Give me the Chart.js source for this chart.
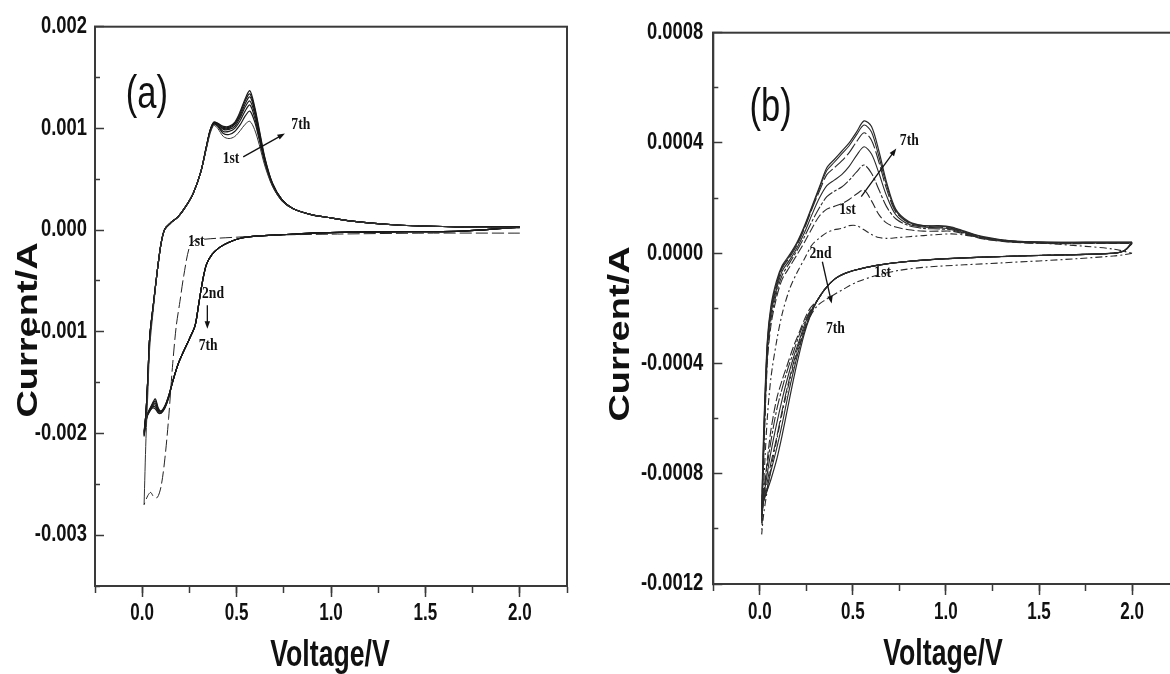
<!DOCTYPE html>
<html><head><meta charset="utf-8">
<script src="https://cdn.jsdelivr.net/npm/chart.js@4.4.1/dist/chart.umd.min.js"></script>
<style>
html,body{margin:0;padding:0;background:#fff;overflow:hidden;width:1170px;height:674px;}
#wa{position:absolute;left:0;top:0;width:585px;height:674px;}
#wb{position:absolute;left:585px;top:0;width:600px;height:674px;}
</style></head><body>
<div id="wa"><canvas id="ca" width="585" height="674"></canvas></div>
<div id="wb"><canvas id="cb" width="600" height="674"></canvas></div>
<script>
// ---------- axis ticks ----------
const xMajor = [0, 0.5, 1.0, 1.5, 2.0];
const xLabels = ['0.0', '0.5', '1.0', '1.5', '2.0'];
const xMinor = [-0.25, 0.25, 0.75, 1.25, 1.75, 2.25];
const aYMajor = [-0.003, -0.002, -0.001, 0, 0.001, 0.002];
const aYLabels = ['-0.003', '-0.002', '-0.001', '0.000', '0.001', '0.002'];
const aYMinor = [-0.0035, -0.0025, -0.0015, -0.0005, 0.0005, 0.0015];
const bYMajor = [-0.0012, -0.0008, -0.0004, 0, 0.0004, 0.0008];
const bYLabels = ['-0.0012', '-0.0008', '-0.0004', '0.0000', '0.0004', '0.0008'];
const bYMinor = [-0.001, -0.0006, -0.0002, 0.0002, 0.0006];

// ---------- panel (a) data: voltage (V), current (mA) ----------
const aVAnodic = [0.01,0.02,0.03,0.04,0.06,0.08,0.10,0.12,0.15,0.19,0.23,0.27,0.31,0.34,0.36,0.38,0.40,0.43,0.46,0.49,0.52,0.545,0.57,0.595,0.62,0.65,0.69,0.74,0.80,0.90,1.00,1.10,1.20,1.35,1.50,1.70,2.00];
const aI1Anodic = [-2.70,-2.05,-1.60,-1.15,-0.76,-0.40,-0.13,0.01,0.07,0.13,0.23,0.36,0.57,0.80,0.95,1.03,1.00,0.92,0.90,0.92,0.98,1.04,1.07,0.99,0.84,0.63,0.43,0.29,0.21,0.15,0.12,0.09,0.07,0.05,0.04,0.03,0.02];
const aI2Anodic = [-1.98,-1.80,-1.45,-1.05,-0.72,-0.40,-0.13,0.01,0.07,0.13,0.23,0.36,0.57,0.81,0.97,1.04,1.02,0.95,0.94,0.97,1.04,1.12,1.17,1.07,0.89,0.66,0.44,0.29,0.21,0.15,0.12,0.09,0.07,0.05,0.04,0.03,0.03];
const aI3Anodic = [-1.99,-1.80,-1.45,-1.05,-0.72,-0.40,-0.13,0.01,0.07,0.13,0.23,0.36,0.57,0.82,0.98,1.05,1.03,0.97,0.97,1.00,1.08,1.17,1.23,1.11,0.91,0.67,0.44,0.29,0.21,0.15,0.12,0.09,0.07,0.05,0.04,0.03,0.03];
const aI4Anodic = [-2.00,-1.80,-1.45,-1.05,-0.72,-0.40,-0.13,0.01,0.07,0.13,0.23,0.36,0.57,0.82,0.98,1.05,1.04,0.99,0.99,1.02,1.11,1.21,1.27,1.15,0.93,0.68,0.45,0.30,0.21,0.15,0.12,0.09,0.07,0.05,0.04,0.03,0.03];
const aI5Anodic = [-2.01,-1.80,-1.45,-1.05,-0.72,-0.40,-0.13,0.01,0.07,0.13,0.23,0.36,0.57,0.82,0.98,1.06,1.04,1.00,1.00,1.04,1.13,1.24,1.31,1.18,0.95,0.69,0.45,0.30,0.21,0.15,0.12,0.09,0.07,0.05,0.04,0.03,0.03];
const aI6Anodic = [-2.02,-1.80,-1.45,-1.05,-0.72,-0.40,-0.13,0.01,0.07,0.13,0.23,0.36,0.57,0.82,0.98,1.06,1.05,1.01,1.01,1.05,1.15,1.27,1.34,1.20,0.97,0.70,0.46,0.30,0.21,0.15,0.12,0.09,0.07,0.05,0.04,0.03,0.03];
const aI7Anodic = [-2.03,-1.80,-1.45,-1.05,-0.72,-0.40,-0.13,0.01,0.07,0.13,0.23,0.36,0.57,0.82,0.98,1.06,1.05,1.02,1.02,1.06,1.17,1.29,1.37,1.22,0.99,0.71,0.46,0.30,0.21,0.15,0.12,0.09,0.07,0.05,0.04,0.03,0.03];

const aV1Cathodic = [2.00,1.50,1.00,0.70,0.50,0.40,0.33,0.28,0.25,0.22,0.20,0.18,0.16,0.14,0.12,0.10,0.08,0.06,0.045,0.03,0.01];
const aI1Cathodic = [-0.03,-0.03,-0.04,-0.05,-0.07,-0.08,-0.09,-0.10,-0.17,-0.45,-0.70,-0.95,-1.35,-1.85,-2.25,-2.52,-2.63,-2.62,-2.58,-2.61,-2.70];
const aVCathodic = [2.00,1.70,1.40,1.10,0.90,0.70,0.60,0.52,0.46,0.41,0.37,0.34,0.32,0.30,0.28,0.25,0.22,0.19,0.16,0.14,0.12,0.10,0.085,0.07,0.055,0.04,0.025,0.01];
const aI2Cathodic = [0.03,-0.01,-0.015,-0.02,-0.03,-0.05,-0.06,-0.08,-0.12,-0.17,-0.24,-0.34,-0.50,-0.72,-0.94,-1.07,-1.19,-1.32,-1.50,-1.63,-1.73,-1.78,-1.75,-1.66,-1.70,-1.76,-1.82,-1.98];
const aI3Cathodic = [0.03,-0.01,-0.015,-0.02,-0.03,-0.05,-0.06,-0.08,-0.12,-0.17,-0.24,-0.34,-0.50,-0.72,-0.94,-1.07,-1.19,-1.32,-1.50,-1.63,-1.73,-1.78,-1.76,-1.68,-1.71,-1.76,-1.82,-1.99];
const aI4Cathodic = [0.03,-0.01,-0.015,-0.02,-0.03,-0.05,-0.06,-0.08,-0.12,-0.17,-0.24,-0.34,-0.50,-0.72,-0.94,-1.07,-1.19,-1.32,-1.50,-1.64,-1.74,-1.79,-1.77,-1.70,-1.72,-1.77,-1.83,-2.00];
const aI5Cathodic = [0.03,-0.01,-0.015,-0.02,-0.03,-0.05,-0.06,-0.08,-0.12,-0.17,-0.24,-0.34,-0.50,-0.72,-0.94,-1.07,-1.19,-1.32,-1.50,-1.64,-1.74,-1.79,-1.78,-1.72,-1.73,-1.77,-1.83,-2.01];
const aI6Cathodic = [0.03,-0.01,-0.015,-0.02,-0.03,-0.05,-0.06,-0.08,-0.12,-0.17,-0.24,-0.34,-0.50,-0.72,-0.94,-1.07,-1.19,-1.32,-1.50,-1.65,-1.75,-1.80,-1.79,-1.74,-1.74,-1.78,-1.84,-2.02];
const aI7Cathodic = [0.03,-0.01,-0.015,-0.02,-0.03,-0.05,-0.06,-0.08,-0.12,-0.17,-0.24,-0.34,-0.50,-0.72,-0.94,-1.07,-1.19,-1.32,-1.50,-1.65,-1.75,-1.80,-1.80,-1.76,-1.75,-1.78,-1.84,-2.03];

// ---------- panel (b) data: voltage (V), current (mA) ----------
const bVAnodic = [0.01,0.02,0.04,0.06,0.09,0.12,0.16,0.20,0.24,0.28,0.32,0.36,0.40,0.44,0.48,0.52,0.56,0.60,0.64,0.68,0.73,0.80,0.88,0.96,1.03,1.10,1.20,1.35,1.55,1.75,1.90,2.00];
const bI1Anodic = [-1.02,-0.85,-0.60,-0.45,-0.32,-0.22,-0.13,-0.07,-0.02,0.03,0.055,0.075,0.085,0.09,0.10,0.10,0.085,0.068,0.057,0.054,0.056,0.06,0.064,0.068,0.07,0.066,0.055,0.045,0.035,0.025,0.015,0.0];
const bI2Anodic = [-0.98,-0.76,-0.40,-0.26,-0.16,-0.095,-0.05,-0.005,0.04,0.09,0.135,0.16,0.17,0.18,0.195,0.215,0.229,0.19,0.14,0.11,0.095,0.085,0.08,0.08,0.08,0.07,0.052,0.04,0.035,0.035,0.035,0.035];
const bI3Anodic = [-0.97,-0.74,-0.38,-0.24,-0.145,-0.08,-0.035,0.01,0.06,0.115,0.165,0.205,0.225,0.24,0.265,0.295,0.32,0.29,0.23,0.17,0.125,0.10,0.09,0.088,0.085,0.072,0.053,0.041,0.036,0.036,0.036,0.036];
const bI4Anodic = [-0.96,-0.72,-0.36,-0.22,-0.13,-0.065,-0.025,0.02,0.075,0.14,0.20,0.245,0.265,0.285,0.315,0.355,0.386,0.36,0.29,0.21,0.14,0.105,0.095,0.092,0.088,0.074,0.055,0.042,0.037,0.037,0.037,0.037];
const bI5Anodic = [-0.95,-0.70,-0.34,-0.21,-0.12,-0.055,-0.015,0.03,0.09,0.16,0.225,0.285,0.31,0.335,0.365,0.405,0.437,0.41,0.33,0.235,0.15,0.11,0.098,0.095,0.09,0.076,0.057,0.043,0.038,0.038,0.038,0.038];
const bI6Anodic = [-0.94,-0.68,-0.33,-0.20,-0.11,-0.05,-0.01,0.035,0.095,0.165,0.235,0.30,0.33,0.36,0.39,0.43,0.465,0.44,0.35,0.25,0.155,0.112,0.10,0.098,0.093,0.078,0.058,0.044,0.04,0.04,0.04,0.04];
const bI7Anodic = [-0.93,-0.66,-0.32,-0.19,-0.10,-0.045,-0.005,0.04,0.10,0.17,0.24,0.31,0.34,0.37,0.40,0.44,0.48,0.46,0.37,0.26,0.16,0.115,0.10,0.10,0.095,0.08,0.06,0.045,0.04,0.04,0.04,0.04];

const bVCathodic = [2.00,1.96,1.90,1.70,1.50,1.30,1.10,0.90,0.75,0.62,0.52,0.45,0.40,0.35,0.31,0.27,0.24,0.21,0.18,0.15,0.12,0.09,0.06,0.04,0.02,0.01];
const bI1Cathodic = [0.0,-0.005,-0.01,-0.02,-0.028,-0.035,-0.042,-0.05,-0.062,-0.082,-0.105,-0.13,-0.15,-0.17,-0.19,-0.23,-0.28,-0.34,-0.41,-0.49,-0.58,-0.68,-0.78,-0.86,-0.95,-1.02];
const bI2Cathodic = [0.035,0.01,0.0,-0.005,-0.008,-0.012,-0.017,-0.024,-0.033,-0.045,-0.06,-0.075,-0.095,-0.13,-0.17,-0.20,-0.24,-0.29,-0.34,-0.40,-0.46,-0.53,-0.64,-0.75,-0.88,-0.98];
const bI3Cathodic = [0.036,0.01,0.0,-0.005,-0.008,-0.012,-0.017,-0.024,-0.033,-0.045,-0.06,-0.075,-0.095,-0.13,-0.17,-0.21,-0.25,-0.30,-0.36,-0.42,-0.49,-0.57,-0.68,-0.77,-0.88,-0.97];
const bI4Cathodic = [0.037,0.01,0.0,-0.005,-0.008,-0.012,-0.017,-0.024,-0.033,-0.045,-0.06,-0.075,-0.095,-0.13,-0.17,-0.215,-0.26,-0.32,-0.38,-0.45,-0.53,-0.62,-0.72,-0.80,-0.89,-0.96];
const bI5Cathodic = [0.038,0.01,0.0,-0.005,-0.008,-0.012,-0.017,-0.024,-0.033,-0.045,-0.06,-0.075,-0.095,-0.13,-0.17,-0.22,-0.27,-0.33,-0.40,-0.48,-0.57,-0.67,-0.76,-0.83,-0.90,-0.95];
const bI6Cathodic = [0.04,0.01,0.0,-0.005,-0.008,-0.012,-0.017,-0.024,-0.033,-0.045,-0.06,-0.075,-0.095,-0.13,-0.17,-0.225,-0.28,-0.35,-0.43,-0.52,-0.62,-0.71,-0.79,-0.85,-0.90,-0.94];
const bI7Cathodic = [0.04,0.01,0.0,-0.005,-0.008,-0.012,-0.017,-0.024,-0.033,-0.045,-0.06,-0.075,-0.095,-0.13,-0.17,-0.23,-0.29,-0.37,-0.46,-0.56,-0.66,-0.75,-0.82,-0.86,-0.90,-0.93];

// ---------- helpers ----------
const pts = (V, I) => V.map((v, i) => ({ x: v, y: I[i] / 1000 }));
const loop = (Vc, Ic, Va, Ia) => pts(Vc, Ic).concat(pts(Va, Ia));
const sorted = (a, b) => a.concat(b).sort((p, q) => p - q);

const AXCOL = '#3a3a3a';
const TICK = "bold 23px 'Liberation Sans',Arial,sans-serif";

function drawText(ctx, s, x, y, font, sx, sy, rot, align) {
  ctx.save();
  ctx.translate(x, y);
  if (rot) ctx.rotate(rot);
  ctx.scale(sx || 1, sy || 1);
  ctx.font = font; ctx.fillStyle = '#111'; ctx.textAlign = align || 'center'; ctx.textBaseline = 'middle';
  ctx.fillText(s, 0, 0);
  ctx.restore();
}
function drawArrow(ctx, x1, y1, x2, y2) {
  ctx.save();
  ctx.strokeStyle = '#111'; ctx.fillStyle = '#111'; ctx.lineWidth = 1.3;
  const a = Math.atan2(y2 - y1, x2 - x1), h = 8;
  ctx.beginPath(); ctx.moveTo(x1, y1); ctx.lineTo(x2 - Math.cos(a) * h * 0.6, y2 - Math.sin(a) * h * 0.6); ctx.stroke();
  ctx.beginPath(); ctx.moveTo(x2, y2);
  ctx.lineTo(x2 - h * Math.cos(a - 0.35), y2 - h * Math.sin(a - 0.35));
  ctx.lineTo(x2 - h * Math.cos(a + 0.35), y2 - h * Math.sin(a + 0.35));
  ctx.closePath(); ctx.fill();
  ctx.restore();
}

const notesPlugin = {
  id: 'notes',
  afterDatasetsDraw(chart) {
    const { ctx, chartArea: a } = chart;
    ctx.save(); ctx.strokeStyle = AXCOL; ctx.lineWidth = 2;
    ctx.strokeRect(a.left, a.top, a.right - a.left, a.bottom - a.top);
    ctx.restore();
  },
  afterDraw(chart, args, o) {
    const { ctx, chartArea: a } = chart; const sx = chart.scales.x, sy = chart.scales.y;
    const X = v => sx.getPixelForValue(v), Y = v => sy.getPixelForValue(v);
    o.xt.vals.forEach((v, k) => drawText(ctx, o.xt.labels[k], X(v), a.bottom + o.xt.gap, TICK, 0.74, 1, 0, 'center'));
    o.yt.vals.forEach((v, k) => drawText(ctx, o.yt.labels[k], a.left - o.yt.gap, Y(v), TICK, 0.8, 1, 0, 'right'));
    (o.texts || []).forEach(t => drawText(ctx, t.s, X(t.v), Y(t.i), t.font, t.sx, 1, 0));
    (o.arrows || []).forEach(r => drawArrow(ctx, X(r[0]), Y(r[1]), X(r[2]), Y(r[3])));
    (o.titles || []).forEach(t => drawText(ctx, t.s, t.x, t.y, t.font, t.sx, t.sy, t.rot));
  }
};

function scalesFor(yMin, yMax, yMaj, yMinr, yWidth, xHeight) {
  return {
    x: { type: 'linear', position: 'bottom', min: -0.25, max: 2.25, weight: 10,
      afterBuildTicks: s => { s.ticks = sorted(xMajor, xMinor).map(v => ({ value: v })); },
      afterFit: s => { s.height = xHeight; },
      grid: { drawOnChartArea: false, tickLength: 7, tickWidth: 1.5, tickColor: AXCOL },
      border: { display: true, color: AXCOL, width: 2 },
      ticks: { display: false } },
    xMaj: { type: 'linear', position: 'bottom', min: -0.25, max: 2.25, weight: 0,
      afterBuildTicks: s => { s.ticks = xMajor.map(v => ({ value: v })); },
      afterFit: s => { s.height = 0; },
      grid: { drawOnChartArea: false, tickLength: 11, tickWidth: 1.5, tickColor: AXCOL },
      border: { display: false }, ticks: { display: false } },
    y: { type: 'linear', position: 'left', min: yMin, max: yMax, weight: 10,
      afterBuildTicks: s => { s.ticks = yMaj.map(v => ({ value: v })); },
      afterFit: s => { s.width = yWidth; },
      grid: { drawOnChartArea: false, tickLength: -9, tickWidth: 1.5, tickColor: AXCOL },
      border: { display: true, color: AXCOL, width: 2 },
      ticks: { display: false } },
    yMin: { type: 'linear', position: 'left', min: yMin, max: yMax, weight: 0,
      afterBuildTicks: s => { s.ticks = yMinr.map(v => ({ value: v })); },
      afterFit: s => { s.width = 0; },
      grid: { drawOnChartArea: false, tickLength: -5, tickWidth: 1.5, tickColor: AXCOL },
      border: { display: false }, ticks: { display: false } }
  };
}

const line = (data, color, width, dash) => ({ data, showLine: true, borderColor: color, borderWidth: width, borderDash: dash || [], pointRadius: 0, tension: 0.3, fill: false });

const SERIF = "bold 16px 'Liberation Serif','Times New Roman',serif";
const TITLE = "bold 36px 'Liberation Sans',Arial,sans-serif";
const YTITLE = "bold 38px 'Liberation Sans',Arial,sans-serif";
const PANEL = "46px 'Liberation Sans',Arial,sans-serif";

// ---------- chart (a) ----------
new Chart(document.getElementById('ca'), {
  type: 'scatter',
  data: { datasets: [
    line(pts(aV1Cathodic, aI1Cathodic), '#222', 1, [12, 4]),
    line(pts(aVAnodic, aI1Anodic), '#333', 1),
    line(loop(aVCathodic, aI2Cathodic, aVAnodic, aI2Anodic), '#1a1a1a', 1.2),
    line(loop(aVCathodic, aI3Cathodic, aVAnodic, aI3Anodic), '#1a1a1a', 1.2),
    line(loop(aVCathodic, aI4Cathodic, aVAnodic, aI4Anodic), '#1a1a1a', 1.2),
    line(loop(aVCathodic, aI5Cathodic, aVAnodic, aI5Anodic), '#1a1a1a', 1.2),
    line(loop(aVCathodic, aI6Cathodic, aVAnodic, aI6Anodic), '#1a1a1a', 1.2),
    line(loop(aVCathodic, aI7Cathodic, aVAnodic, aI7Anodic), '#1a1a1a', 1.2)
  ] },
  options: {
    responsive: false, animation: false, devicePixelRatio: 1,
    layout: { padding: { left: 0, top: 26.7, right: 18, bottom: 0 } },
    scales: scalesFor(-0.0035, 0.002, aYMajor, aYMinor, 95, 88),
    plugins: { legend: { display: false }, tooltip: { enabled: false },
      notes: {
        xt: { vals: xMajor, labels: xLabels, gap: 28 },
        yt: { vals: aYMajor, labels: aYLabels, gap: 8 },
        texts: [
          { s: '(a)', v: 0.025, i: 0.00133, font: PANEL, sx: 0.75 },
          { s: '7th', v: 0.84, i: 0.00103, font: SERIF, sx: 0.85 },
          { s: '1st', v: 0.47, i: 0.00070, font: SERIF, sx: 0.85 },
          { s: '1st', v: 0.286, i: -0.000114, font: SERIF, sx: 0.85 },
          { s: '2nd', v: 0.375, i: -0.00063, font: SERIF, sx: 0.85 },
          { s: '7th', v: 0.349, i: -0.00114, font: SERIF, sx: 0.85 }
        ],
        arrows: [[0.535, 0.00072, 0.756, 0.00095], [0.345, -0.00074, 0.345, -0.00097]],
        titles: [
          { s: 'Voltage/V', x: 330, y: 656, font: TITLE, sx: 0.74, sy: 1, rot: 0 },
          { s: 'Current/A', x: 29, y: 330, font: YTITLE, sx: 1, sy: 0.78, rot: -Math.PI / 2 }
        ]
      } }
  },
  plugins: [notesPlugin]
});

// ---------- chart (b) ----------
const BC = '#2a2a2a';
new Chart(document.getElementById('cb'), {
  type: 'scatter',
  data: { datasets: [
    line(loop(bVCathodic, bI1Cathodic, bVAnodic, bI1Anodic), BC, 1.1, [7, 3, 2, 3]),
    line(loop(bVCathodic, bI2Cathodic, bVAnodic, bI2Anodic), BC, 1.1, [9, 3]),
    line(loop(bVCathodic, bI3Cathodic, bVAnodic, bI3Anodic), BC, 1.1, [12, 2, 3, 2]),
    line(loop(bVCathodic, bI4Cathodic, bVAnodic, bI4Anodic), BC, 1.1),
    line(loop(bVCathodic, bI5Cathodic, bVAnodic, bI5Anodic), BC, 1.1, [14, 3]),
    line(loop(bVCathodic, bI6Cathodic, bVAnodic, bI6Anodic), BC, 1.1),
    line(loop(bVCathodic, bI7Cathodic, bVAnodic, bI7Anodic), BC, 1.2)
  ] },
  options: {
    responsive: false, animation: false, devicePixelRatio: 1,
    layout: { padding: { left: 0, top: 32.7, right: 6.4, bottom: 0 } },
    scales: scalesFor(-0.0012, 0.0008, bYMajor, bYMinor, 128.3, 90),
    plugins: { legend: { display: false }, tooltip: { enabled: false },
      notes: {
        xt: { vals: xMajor, labels: xLabels, gap: 29 },
        yt: { vals: bYMajor, labels: bYLabels, gap: 10 },
        texts: [
          { s: '(b)', v: 0.058, i: 0.000527, font: PANEL, sx: 0.75 },
          { s: '7th', v: 0.803, i: 0.000407, font: SERIF, sx: 0.85 },
          { s: '1st', v: 0.471, i: 0.000157, font: SERIF, sx: 0.85 },
          { s: '2nd', v: 0.326, i: -0.000003, font: SERIF, sx: 0.85 },
          { s: '7th', v: 0.406, i: -0.000273, font: SERIF, sx: 0.85 },
          { s: '1st', v: 0.66, i: -0.000073, font: SERIF, sx: 0.85 }
        ],
        arrows: [[0.545, 0.000205, 0.733, 0.00038], [0.336, -0.000031, 0.386, -0.000182]],
        titles: [
          { s: 'Voltage/V', x: 358, y: 655, font: TITLE, sx: 0.74, sy: 1, rot: 0 },
          { s: 'Current/A', x: 36, y: 334, font: YTITLE, sx: 1, sy: 0.78, rot: -Math.PI / 2 }
        ]
      } }
  },
  plugins: [notesPlugin]
});
</script></body></html>
